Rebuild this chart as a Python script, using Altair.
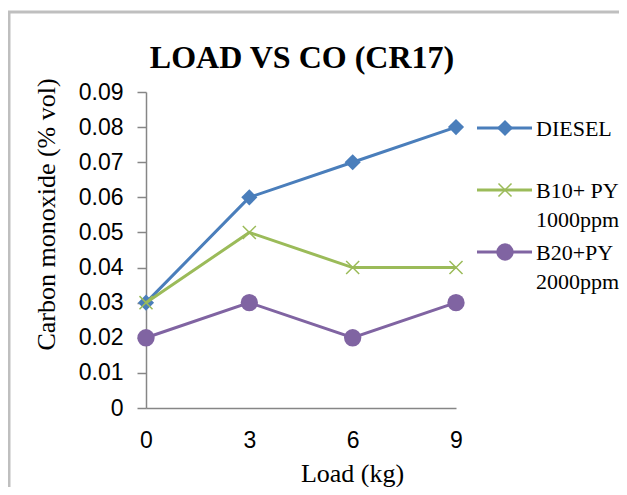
import altair as alt
import pandas as pd

loads = [0, 3, 6, 9]
diesel = [0.03, 0.06, 0.07, 0.08]
b10 = [0.03, 0.05, 0.04, 0.04]
b20 = [0.02, 0.03, 0.02, 0.03]
series_names = ["DIESEL", "B10+ PY 1000ppm", "B20+PY 2000ppm"]
colors = ["#4A7EBB", "#9BBB59", "#8064A2"]
y_ticks = [0, 0.01, 0.02, 0.03, 0.04, 0.05, 0.06, 0.07, 0.08, 0.09]
chart_title = "LOAD VS CO (CR17)"

rows = []
for name, vals in zip(series_names, [diesel, b10, b20]):
    for l, v in zip(loads, vals):
        rows.append({"Load": l, "CO": v, "Series": name})
df = pd.DataFrame(rows)

X_PATH = "M-1,-1L1,1M-1,1L1,-1"

xenc = alt.X("Load:Q", scale=alt.Scale(domain=[0, 9], nice=False, zero=False),
             axis=alt.Axis(values=loads, title="Load (kg)", ticks=False, labelPadding=21,
                           labelFlush=False, grid=False, titleX=206, titleY=73,
                           titleBaseline="alphabetic", titleAlign="center", titleAnchor="start"))
yenc = alt.Y("CO:Q", scale=alt.Scale(domain=[0, 0.09], nice=False),
             axis=alt.Axis(values=y_ticks, title="Carbon monoxide (% vol)", tickSize=9,
                           labelPadding=14, labelFlush=False, grid=False,
                           labelExpr="datum.value == 0 ? '0' : format(datum.value, '.2f')",
                           titleX=-92, titleY=122, titleAngle=270, titleAlign="center",
                           titleAnchor="start", titleBaseline="alphabetic"))

one = pd.DataFrame({"a": [0]})
layers = []
# frame
frame = alt.Chart(one).mark_rect(fillOpacity=0, stroke="#BFBFBF", strokeWidth=3, clip=False).encode(
    x=alt.value(-137), x2=alt.value(700), y=alt.value(-80), y2=alt.value(600))
layers.append(frame)

# title
layers.append(alt.Chart(one).mark_text(text=chart_title, font="Liberation Serif", fontSize=32,
                                       fontWeight="bold", color="black", align="center",
                                       baseline="alphabetic", clip=False).encode(
    x=alt.value(156), y=alt.value(-24)))

marker_specs = [
    dict(shape="diamond", size=260, filled=True),
    dict(shape=X_PATH, size=170, filled=False, strokeWidth=1.5),
    dict(shape="circle", size=300, filled=True),
]

for name, color, ms in zip(series_names, colors, marker_specs):
    d = df[df["Series"] == name]
    base = alt.Chart(d)
    line = base.mark_line(color=color, strokeWidth=3).encode(x=xenc, y=yenc)
    pt_kwargs = dict(shape=ms["shape"], size=ms["size"], filled=ms["filled"], color=color, opacity=1)
    if not ms["filled"]:
        pt_kwargs["strokeWidth"] = ms["strokeWidth"]
    pts = base.mark_point(**pt_kwargs).encode(x=xenc, y=yenc)
    layers += [line, pts]

# legend
legend_y = [36, 98, 160]
legend_text = ["DIESEL", "B10+ PY\n1000ppm", "B20+PY\n2000ppm"]
for ly, color, ms, txt in zip(legend_y, colors, marker_specs, legend_text):
    layers.append(alt.Chart(one).mark_rule(color=color, strokeWidth=3, clip=False).encode(
        x=alt.value(331), x2=alt.value(386), y=alt.value(ly)))
    pt_kwargs = dict(shape=ms["shape"], size=ms["size"], filled=ms["filled"], color=color, opacity=1, clip=False)
    if not ms["filled"]:
        pt_kwargs["strokeWidth"] = ms["strokeWidth"]
    layers.append(alt.Chart(one).mark_point(**pt_kwargs).encode(x=alt.value(359), y=alt.value(ly)))
    layers.append(alt.Chart(one).mark_text(text=txt, lineBreak="\n", lineHeight=29, align="left",
                                           baseline="alphabetic", font="Liberation Serif", fontSize=22,
                                           color="black", clip=False).encode(
        x=alt.value(390), y=alt.value(ly + 8)))

chart = alt.layer(*layers).properties(
    width=310, height=316,
    autosize=alt.AutoSizeParams(type="none"),
    padding={"left": 138, "top": 84, "right": 163, "bottom": 79},
).configure(background="white").configure_view(stroke=None).configure_axis(
    domainColor="#868686", tickColor="#868686", domainWidth=1.5, tickWidth=1.5,
    labelFont="Liberation Sans", labelFontSize=23, labelColor="black",
    titleFont="Liberation Serif", titleFontSize=26, titleFontWeight="normal", titleColor="black",
)

chart.save("out.html", embed_options={"renderer": "svg", "actions": False})
